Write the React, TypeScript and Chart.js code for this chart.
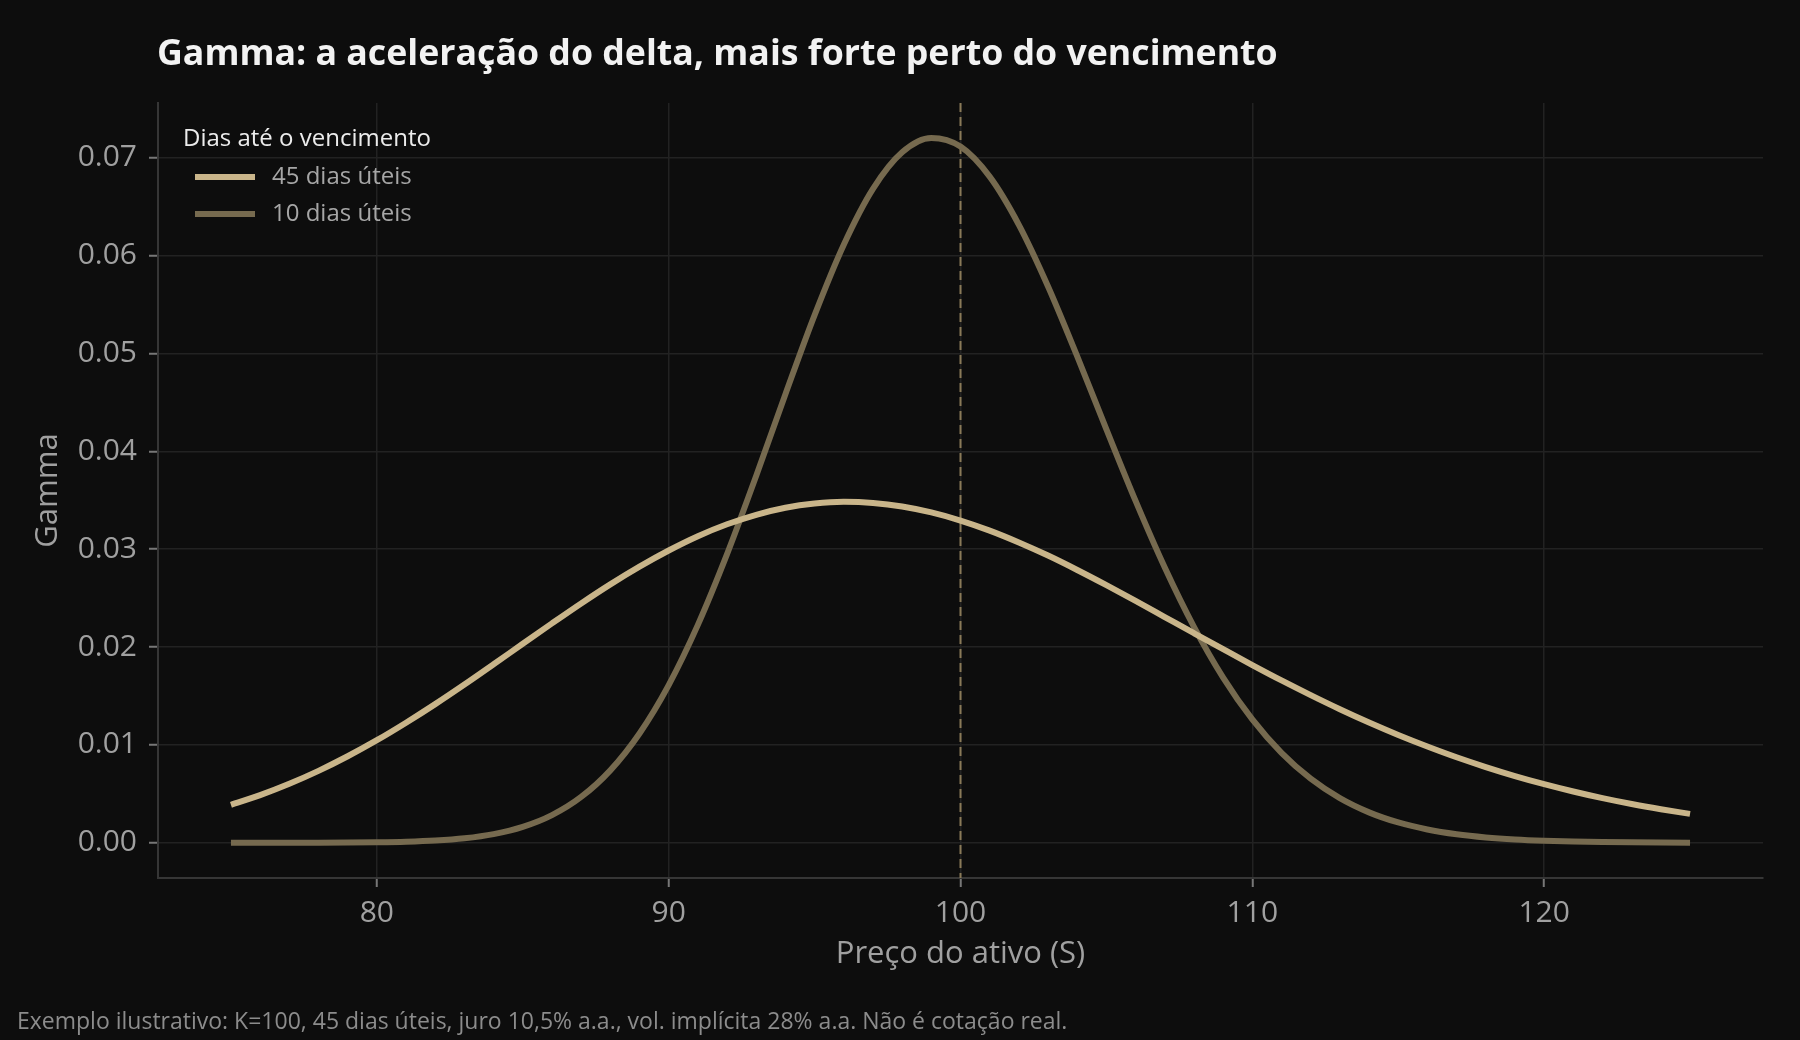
import React, { useEffect, useRef } from "react";
import Chart from "chart.js/auto";

// preço do ativo (S) e gamma
const precos = [
  75, 76, 77, 78, 79, 80, 81, 82, 83, 84,
  85, 86, 87, 88, 89, 90, 91, 92, 93, 94,
  95, 96, 97, 98, 99, 100, 101, 102, 103, 104,
  105, 106, 107, 108, 109, 110, 111, 112, 113, 114,
  115, 116, 117, 118, 119, 120, 121, 122, 123, 124,
  125,
];

const gamma45 = [
  0.00388, 0.00487, 0.00603, 0.00735, 0.00884, 0.01048, 0.01227, 0.01417, 0.01617, 0.01824,
  0.02034, 0.02242, 0.02446, 0.02641, 0.02822, 0.02987, 0.03133, 0.03255, 0.03352, 0.03424,
  0.03467, 0.03484, 0.03473, 0.03437, 0.03376, 0.03293, 0.0319, 0.03069, 0.02935, 0.02788,
  0.02633, 0.02472, 0.02307, 0.02142, 0.01978, 0.01816, 0.01659, 0.01509, 0.01365, 0.01229,
  0.01102, 0.00984, 0.00874, 0.00774, 0.00682, 0.00599, 0.00524, 0.00456, 0.00396, 0.00343,
  0.00295,
];

const gamma10 = [
  0.0000003, 0.000001, 0.000003, 0.000007, 0.000018, 0.000045, 0.000103, 0.000223, 0.000456, 0.000882,
  0.001619, 0.002822, 0.00468, 0.007401, 0.011169, 0.016116, 0.022266, 0.029493, 0.037503, 0.04584,
  0.053924, 0.061121, 0.06683, 0.070565, 0.07203, 0.071149, 0.068075, 0.063151, 0.056851, 0.049709,
  0.042254, 0.034941, 0.028134, 0.022073, 0.016887, 0.012607, 0.00919, 0.006546, 0.004559, 0.003107,
  0.002073, 0.001355, 0.000867, 0.000545, 0.000335, 0.000203, 0.000121, 0.000071, 0.000041, 0.000023,
  0.000013,
];

const xTicks = [80, 90, 100, 110, 120];
const yTicks = [0, 0.01, 0.02, 0.03, 0.04, 0.05, 0.06, 0.07];
const strike = 100;

const titulo = "Gamma: a aceleração do delta, mais forte perto do vencimento";
const legendaTitulo = "Dias até o vencimento";
const rotulos = ["45 dias úteis", "10 dias úteis"];
const nota =
  "Exemplo ilustrativo: K=100, 45 dias úteis, juro 10,5% a.a., vol. implícita 28% a.a. Não é cotação real.";

const FONT = "'Open Sans', 'Noto Sans', sans-serif";
const COR_45 = "#c9b58a";
const COR_10 = "#766a4f";
const BG = "#0d0d0d";

const linhaStrike = {
  id: "linhaStrike",
  beforeDatasetsDraw(chart: any) {
    const { ctx, chartArea, scales } = chart;
    const x = scales.x.getPixelForValue(strike);
    ctx.save();
    ctx.strokeStyle = "#8a7a58";
    ctx.lineWidth = 2;
    ctx.setLineDash([9, 5]);
    ctx.beginPath();
    ctx.moveTo(x, chartArea.top);
    ctx.lineTo(x, chartArea.bottom);
    ctx.stroke();
    ctx.restore();
  },
};

const legenda = {
  id: "legendaDias",
  afterDatasetsDraw(chart: any) {
    const { ctx, chartArea } = chart;
    const cores = [COR_45, COR_10];
    ctx.save();
    ctx.textBaseline = "middle";
    ctx.textAlign = "left";
    ctx.font = `24px ${FONT}`;
    ctx.fillStyle = "#ececec";
    ctx.fillText(legendaTitulo, chartArea.left + 25, chartArea.top + 36);
    rotulos.forEach((r, i) => {
      const y = chartArea.top + 74 + i * 37;
      ctx.strokeStyle = cores[i];
      ctx.lineWidth = 6;
      ctx.beginPath();
      ctx.moveTo(chartArea.left + 37, y);
      ctx.lineTo(chartArea.left + 97, y);
      ctx.stroke();
      ctx.fillStyle = "#a6a6a6";
      ctx.fillText(r, chartArea.left + 114, y);
    });
    ctx.restore();
  },
};

const GammaChart: React.FC = () => {
  const ref = useRef<HTMLCanvasElement>(null);

  useEffect(() => {
    if (!ref.current) return;
    const chart = new Chart(ref.current, {
      type: "line",
      data: {
        datasets: [
          {
            label: rotulos[0],
            data: precos.map((p, i) => ({ x: p, y: gamma45[i] })),
            borderColor: COR_45,
            borderWidth: 6,
            pointRadius: 0,
            cubicInterpolationMode: "monotone",
            fill: false,
          },
          {
            label: rotulos[1],
            data: precos.map((p, i) => ({ x: p, y: gamma10[i] })),
            borderColor: COR_10,
            borderWidth: 6,
            pointRadius: 0,
            cubicInterpolationMode: "monotone",
            fill: false,
          },
        ],
      },
      options: {
        animation: false,
        responsive: false,
        events: [],
        layout: { padding: { top: 103, left: 0, right: 37, bottom: 0 } },
        plugins: {
          legend: { display: false },
          tooltip: { enabled: false },
          title: { display: false },
        },
        scales: {
          x: {
            type: "linear",
            min: 72.5,
            max: 127.5,
            afterBuildTicks: (s: any) => {
              s.ticks = xTicks.map((v) => ({ value: v }));
            },
            afterFit: (s: any) => {
              s.height = 162;
            },
            ticks: {
              color: "#a0a0a0",
              font: { size: 30, family: FONT },
              padding: 8,
              maxRotation: 0,
              callback: (v: any) => String(v),
            },
            grid: {
              color: "#222222",
              lineWidth: 1.5,
              tickColor: "#777777",
              tickLength: 9,
              tickWidth: 2,
            },
            border: { color: "#363636", width: 2 },
            title: {
              display: true,
              text: "Preço do ativo (S)",
              color: "#a0a0a0",
              font: { size: 31, family: FONT },
              padding: { top: 0, bottom: 67 },
            },
          },
          y: {
            type: "linear",
            min: -0.0036,
            max: 0.0756,
            afterBuildTicks: (s: any) => {
              s.ticks = yTicks.map((v) => ({ value: v }));
            },
            afterFit: (s: any) => {
              s.width = 158;
            },
            ticks: {
              color: "#a0a0a0",
              font: { size: 30, family: FONT },
              padding: 12,
              callback: (v: any) => Number(v).toFixed(2),
            },
            grid: {
              color: "#222222",
              lineWidth: 1.5,
              tickColor: "#777777",
              tickLength: 9,
              tickWidth: 2,
            },
            border: { color: "#363636", width: 2 },
            title: {
              display: true,
              text: "Gamma",
              color: "#a0a0a0",
              font: { size: 31, family: FONT },
              padding: { top: 30, bottom: 0 },
            },
          },
        },
      },
      plugins: [linhaStrike, legenda],
    });
    return () => chart.destroy();
  }, []);

  return (
    <canvas
      ref={ref}
      width={1800}
      height={1040}
      style={{ position: "absolute", left: 0, top: 0, width: 1800, height: 1040 }}
    />
  );
};

export default function App() {
  return (
    <div
      style={{
        position: "fixed",
        left: 0,
        top: 0,
        width: 1800,
        height: 1040,
        background: BG,
        overflow: "hidden",
        fontFamily: FONT,
      }}
    >
      <GammaChart />
      <div
        style={{
          position: "absolute",
          left: 157,
          top: 31,
          fontSize: 35.7,
          lineHeight: "40px",
          fontWeight: 700,
          color: "#f2f2f2",
          whiteSpace: "nowrap",
        }}
      >
        {titulo}
      </div>
      <div
        style={{
          position: "absolute",
          left: 17,
          top: 1007,
          fontSize: 23,
          lineHeight: "26px",
          color: "#8c8c8c",
          whiteSpace: "nowrap",
        }}
      >
        {nota}
      </div>
    </div>
  );
}
